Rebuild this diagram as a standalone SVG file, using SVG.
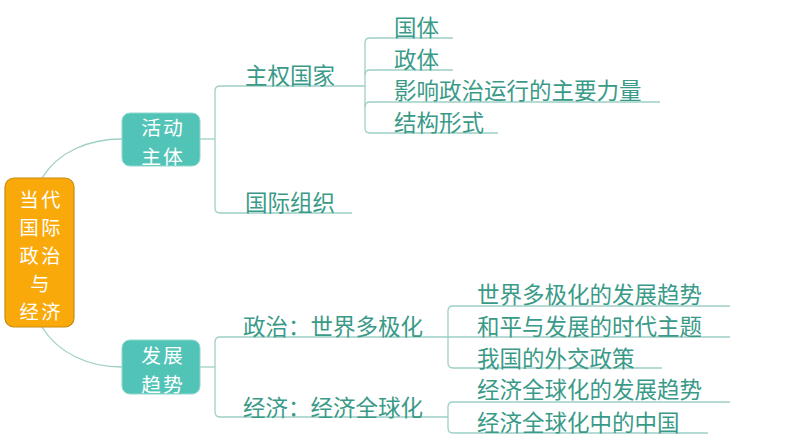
<svg xmlns="http://www.w3.org/2000/svg" width="794" height="447" viewBox="0 0 794 447">
<style>
.ln{fill:none;stroke:#9fcfc6;stroke-width:1.3}
.t{font-family:"Noto Sans CJK SC","Noto Sans",sans-serif;font-size:22.5px;fill:#3a9a88;dominant-baseline:central}
.w{font-family:"Noto Sans CJK SC","Noto Sans",sans-serif;fill:#ffffff;text-anchor:middle;dominant-baseline:central}
.c{font-size:19.2px;letter-spacing:2.5px}
.n{font-size:19.8px;letter-spacing:2px}
.teal{fill:#52c3b7;stroke:#8fd8cf;stroke-width:1}
</style>
<rect width="794" height="447" fill="#ffffff"/>
<g id="connectors">
<path class="ln" d="M42 178 C58 152 88 139 122 139"/>
<path class="ln" d="M42 327 C58 353 88 367 122 367"/>
<path class="ln" d="M200 139 H215"/>
<path class="ln" d="M365 86 H220 Q215 86 215 91 V208 Q215 213 220 213 H352"/>
<path class="ln" d="M453 38 H370 Q365 38 365 43 V128 Q365 133 370 133 H498"/>
<path class="ln" d="M365 75 Q365 70 370 70 H453"/>
<path class="ln" d="M365 107 Q365 102 370 102 H660"/>
<path class="ln" d="M200 367 H215"/>
<path class="ln" d="M448 337 H220 Q215 337 215 342 V412 Q215 417 220 417 H448"/>
<path class="ln" d="M730 306 H453 Q448 306 448 311 V363 Q448 368 453 368 H662"/>
<path class="ln" d="M448 337 H730"/>
<path class="ln" d="M730 402 H453 Q448 402 448 407 V428 Q448 433 453 433 H708"/>
</g>
<g id="root">
<rect x="5" y="178" width="69" height="149" rx="9" fill="#f9aa0a" stroke="#c98a10" stroke-width="1.2"/>
<text class="w c"><tspan x="41.2" y="199">当代</tspan><tspan x="41.2" y="227">国际</tspan><tspan x="41.2" y="255">政治</tspan><tspan x="41.2" y="283">与</tspan><tspan x="41.2" y="311">经济</tspan></text>
</g>
<g id="n-huodong">
<rect class="teal" x="122" y="113" width="78" height="53" rx="8"/>
<text class="w n"><tspan x="163" y="126">活动</tspan><tspan x="163" y="155">主体</tspan></text>
</g>
<g id="n-fazhan">
<rect class="teal" x="122" y="340" width="78" height="54" rx="8"/>
<text class="w n"><tspan x="163" y="354">发展</tspan><tspan x="163" y="383">趋势</tspan></text>
</g>
<g id="n-zhuquan"><text class="t" x="245" y="74">主权国家</text></g>
<g id="n-guoji"><text class="t" x="245" y="201">国际组织</text></g>
<g id="n-guoti"><text class="t" x="394" y="26">国体</text></g>
<g id="n-zhengti"><text class="t" x="394" y="58">政体</text></g>
<g id="n-yingxiang"><text class="t" x="394" y="89">影响政治运行的主要力量</text></g>
<g id="n-jiegou"><text class="t" x="394" y="121">结构形式</text></g>
<g id="n-zhengzhi"><text class="t" x="243" y="325">政治：世界多极化</text></g>
<g id="n-jingji"><text class="t" x="243" y="406">经济：经济全球化</text></g>
<g id="n-s1"><text class="t" x="477" y="293">世界多极化的发展趋势</text></g>
<g id="n-s2"><text class="t" x="477" y="325">和平与发展的时代主题</text></g>
<g id="n-s3"><text class="t" x="477" y="357">我国的外交政策</text></g>
<g id="n-s4"><text class="t" x="477" y="388">经济全球化的发展趋势</text></g>
<g id="n-s5"><text class="t" x="477" y="421">经济全球化中的中国</text></g>
</svg>
